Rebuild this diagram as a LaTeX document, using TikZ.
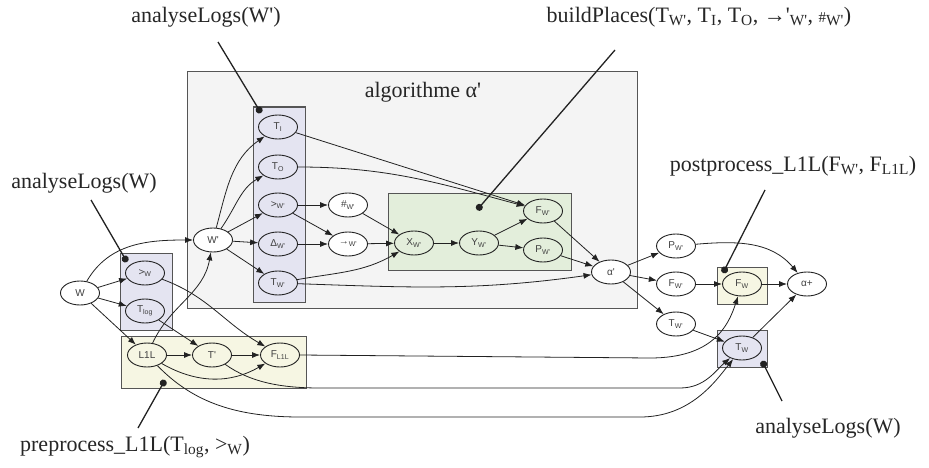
\documentclass[tikz,border=0pt]{standalone}
\usepackage{fontspec}
\setmainfont{Liberation Serif}
\setsansfont{Liberation Sans}
\usetikzlibrary{shapes.geometric,arrows.meta}
\newcommand{\q}{\textquotesingle}
\newcommand{\sbs}[1]{\textsubscript{#1}}
\definecolor{algF}{HTML}{F4F4F4}
\definecolor{blueF}{HTML}{E4E4F1}
\definecolor{greenF}{HTML}{E3EEDB}
\definecolor{yelF}{HTML}{F6F6E3}
\definecolor{boxD}{HTML}{555555}
\definecolor{lineC}{HTML}{222222}
\tikzset{
  nd/.style={ellipse, draw=lineC, line width=0.9pt, minimum width=39pt, minimum height=24pt,
    inner sep=0pt, fill=white, text=black!75, font=\sffamily\fontsize{10}{12}\selectfont},
  ar/.style={draw=lineC, line width=0.8pt, -{Latex[length=8pt,width=6pt]}},
  pinl/.style={draw=lineC, line width=1.3pt, -{Circle[length=7pt]}},
  lbl/.style={font=\fontsize{22}{26}\selectfont, text=black!85, inner sep=1pt},
  grp/.style={draw=boxD, line width=1pt},
}
\begin{document}
\begin{tikzpicture}[x=1pt,y=1pt]
\useasboundingbox (0,0) rectangle (929,467);
% groups
\draw[grp, fill=algF] (187,159) rectangle (637,395);
\draw[grp, fill=blueF] (120,137) rectangle (172,214);
\draw[grp, fill=yelF] (121,79) rectangle (306,131);
\draw[grp, fill=blueF] (253,165) rectangle (305,360);
\draw[grp, fill=greenF] (388,197) rectangle (571,274);
\draw[grp, fill=yelF] (717,163) rectangle (767,200);
\draw[grp, fill=blueF] (717,100) rectangle (767,137);

% nodes
\node[nd] (W) at (80,174) {W};
\node[nd] (Wp) at (213,227) {W\q};
\node[nd, fill=blueF] (gtW) at (145,194) {>\sbs{W}};
\node[nd, fill=blueF] (Tlog) at (145,156) {T\sbs{log}};
\node[nd, fill=yelF] (L1L) at (147,112) {L1L};
\node[nd, fill=yelF] (Tp) at (212,112) {T\q};
\node[nd, fill=yelF] (FL) at (280,112) {F\sbs{L1L}};
\node[nd, fill=blueF] (TI) at (278,340) {T\sbs{I}};
\node[nd, fill=blueF] (TO) at (278,300) {T\sbs{O}};
\node[nd, fill=blueF] (gtWp) at (278,262) {>\sbs{W\q}};
\node[nd, fill=blueF] (DWp) at (278,223) {Δ\sbs{W\q}};
\node[nd, fill=blueF] (TWp) at (278,184) {T\sbs{W\q}};
\node[nd] (hashWp) at (348,262) {\#\sbs{W\q}};
\node[nd] (arWp) at (348,223) {→\sbs{W\q}};
\node[nd, fill=greenF] (Xw) at (414,224) {X\sbs{W\q}};
\node[nd, fill=greenF] (Yw) at (479,224) {Y\sbs{W\q}};
\node[nd, fill=greenF] (Fwp) at (543,256) {F\sbs{W\q}};
\node[nd, fill=greenF] (Pwp) at (543,217) {P\sbs{W\q}};
\node[nd] (ap) at (611,195) {α\q};
\node[nd] (Pout) at (676,221) {P\sbs{W\q}};
\node[nd] (Fout) at (676,183) {F\sbs{W\q}};
\node[nd] (Tout) at (676,143) {T\sbs{W\q}};
\node[nd, fill=yelF] (Fpost) at (742,183) {F\sbs{W}};
\node[nd] (aplus) at (807,183) {α+};
\node[nd, fill=blueF] (Tpost) at (742,119) {T\sbs{W}};

% edges
\draw[ar] (W) to[out=60,in=180] (Wp);
\draw[ar] (W) -- (gtW);
\draw[ar] (W) -- (Tlog);
\draw[ar] (W) -- (L1L);
\draw[ar] (gtW) to[out=-20,in=150] (FL);
\draw[ar] (Tlog) -- (Tp);
\draw[ar] (L1L) to[out=65,in=-100] (Wp);
\draw[ar] (L1L) -- (Tp);
\draw[ar] (Tp) -- (FL);
\draw[ar] (L1L) to[out=-30,in=-150] (FL);
\draw[ar] (FL.east) -- (650,109) .. controls (712,109) and (728,140) .. (Fpost);
\draw[ar] (Tp) .. controls (250,85) and (280,79) .. (320,79) -- (680,79) .. controls (705,79) and (716,97) .. (Tpost);
\draw[ar] (L1L) .. controls (190,68) and (230,50) .. (300,50) -- (640,50) .. controls (690,50) and (715,85) .. (Tpost);
\draw[ar] (Wp) to[out=75,in=-145] (TI);
\draw[ar] (Wp) to[out=55,in=-150] (TO);
\draw[ar] (Wp) -- (gtWp);
\draw[ar] (Wp) -- (DWp);
\draw[ar] (Wp) -- (TWp);
\draw[ar] (gtWp) -- (hashWp);
\draw[ar] (gtWp) -- (arWp);
\draw[ar] (DWp) -- (arWp);
\draw[ar] (hashWp) -- (Xw);
\draw[ar] (arWp) -- (Xw);
\draw[ar] (TWp) to[out=10,in=-150] (Xw);
\draw[ar] (TWp) to[out=-2,in=188] (ap);
\draw[ar] (TI) -- (Fwp);
\draw[ar] (TO) to[out=0,in=165] (Fwp);
\draw[ar] (Xw) -- (Yw);
\draw[ar] (Yw) -- (Fwp);
\draw[ar] (Yw) -- (Pwp);
\draw[ar] (Fwp) -- (ap);
\draw[ar] (Pwp) -- (ap);
\draw[ar] (ap) -- (Pout);
\draw[ar] (ap) -- (Fout);
\draw[ar] (ap) -- (Tout);
\draw[ar] (Fout) -- (Fpost);
\draw[ar] (Tout) -- (Tpost);
\draw[ar] (Fpost) -- (aplus);
\draw[ar] (Tpost) -- (aplus);
\draw[ar] (Pout) to[out=5,in=130] (aplus);

% labels
\node[lbl] (lA) at (206,450) {analyseLogs(W\q)};
\node[lbl] (lAlg) at (423,375) {algorithme α\q};
\node[lbl] (lB) at (699,450) {buildPlaces(T\sbs{W\q}, T\sbs{I}, T\sbs{O}, →\q\sbs{W\q}, {\fontsize{15}{16}\selectfont\#}\sbs{W\q})};
\node[lbl] (lC) at (84,284) {analyseLogs(W)};
\node[lbl] (lD) at (793,301) {postprocess\_L1L(F\sbs{W\q}, F\sbs{L1L})};
\node[lbl] (lE) at (135,20) {preprocess\_L1L(T\sbs{log}, >\sbs{W})};
\node[lbl] (lF) at (828,39) {analyseLogs(W)};

\coordinate (sA) at (218,425);
\coordinate (sB) at (615,417);
\coordinate (sC) at (91,267);
\coordinate (sD) at (765,277);
\coordinate (sE) at (138,39);
\coordinate (sF) at (782,66);
\coordinate (pA) at (261,354);
\coordinate (pB) at (477,257);
\coordinate (pC) at (127,205);
\coordinate (pD) at (723,194);
\coordinate (pE) at (165,87);
\coordinate (pF) at (762,106);
\draw[pinl] (sA) -- (pA);
\draw[pinl] (sB) -- (pB);
\draw[pinl] (sC) -- (pC);
\draw[pinl] (sD) -- (pD);
\draw[pinl] (sE) -- (pE);
\draw[pinl] (sF) -- (pF);
\end{tikzpicture}
\end{document}
